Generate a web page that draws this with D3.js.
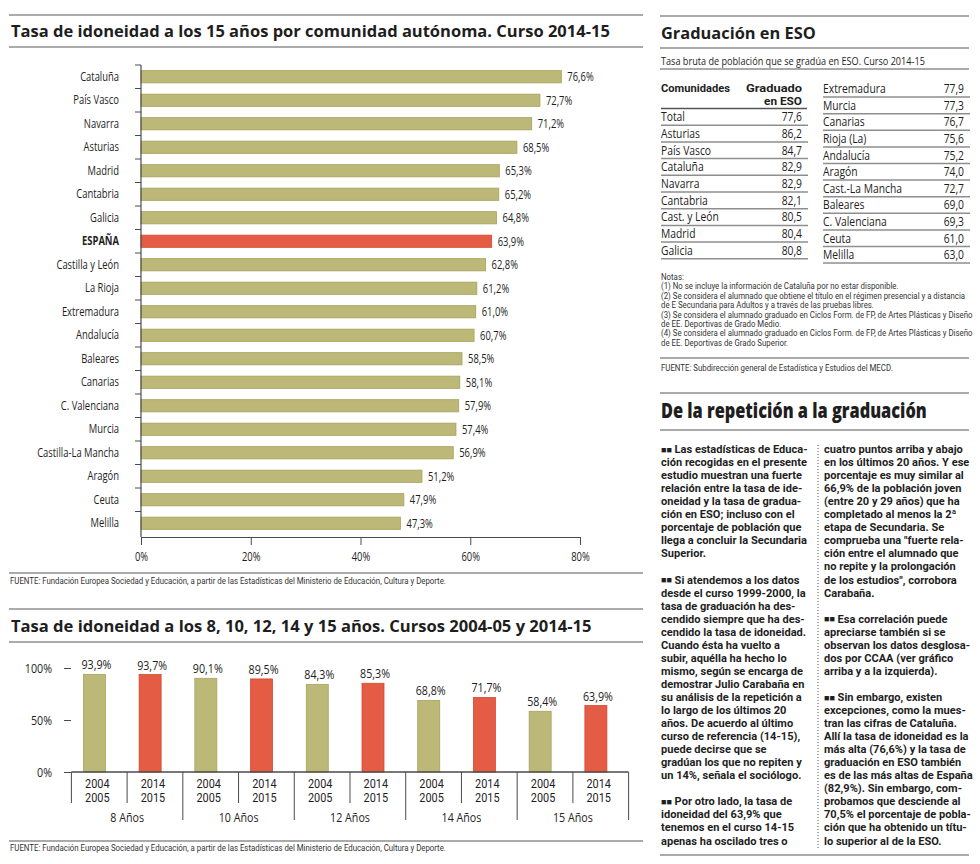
<!DOCTYPE html>
<html>
<head>
<meta charset="utf-8">
<script src="https://cdn.jsdelivr.net/npm/d3@7"></script>
<style>
body { margin: 0; background: #fff; }
svg { display: block; font-family: "Open Sans", sans-serif; }
</style>
</head>
<body>
<script>
// datos: tasa de idoneidad a los 15 años, curso 2014-15
var comunidades = ["Cataluña", "País Vasco", "Navarra", "Asturias", "Madrid", "Cantabria", "Galicia", "ESPAÑA",
    "Castilla y León", "La Rioja", "Extremadura", "Andalucía", "Baleares", "Canarias", "C. Valenciana", "Murcia",
    "Castilla-La Mancha", "Aragón", "Ceuta", "Melilla"];
var idoneidad15 = [76.6, 72.7, 71.2, 68.5, 65.3, 65.2, 64.8, 63.9, 62.8, 61.2, 61.0, 60.7, 58.5, 58.1, 57.9, 57.4, 56.9, 51.2, 47.9, 47.3];
var ticksX1 = [0, 20, 40, 60, 80];

// idoneidad por edad, cursos 2004-05 y 2014-15
var edades = ["8 Años", "10 Años", "12 Años", "14 Años", "15 Años"];
var cursos = ["2004-2005", "2014-2015"];
var curso0405 = [93.9, 90.1, 84.3, 68.8, 58.4];
var curso1415 = [93.7, 89.5, 85.3, 71.7, 63.9];
var ticksY2 = [0, 50, 100];

// tabla graduación en ESO
var tablaIzqNombres = ["Total", "Asturias", "País Vasco", "Cataluña", "Navarra", "Cantabria", "Cast. y León", "Madrid", "Galicia"];
var tablaIzqValores = [77.6, 86.2, 84.7, 82.9, 82.9, 82.1, 80.5, 80.4, 80.8];
var tablaDerNombres = ["Extremadura", "Murcia", "Canarias", "Rioja (La)", "Andalucía", "Aragón", "Cast.-La Mancha",
    "Baleares", "C. Valenciana", "Ceuta", "Melilla"];
var tablaDerValores = [77.9, 77.3, 76.7, 75.6, 75.2, 74.0, 72.7, 69.0, 69.3, 61.0, 63.0];

var notas = [
    "Notas:",
    "(1) No se incluye la información de Cataluña por no estar disponible.",
    "(2) Se considera el alumnado que obtiene el título en el régimen presencial y a distancia",
    "de E Secundaria para Adultos y a través de las pruebas libres.",
    "(3) Se considera el alumnado graduado en Ciclos Form. de FP, de Artes Plásticas y Diseño",
    "de EE. Deportivas de Grado Medio.",
    "(4) Se considera el alumnado graduado en Ciclos Form. de FP, de Artes Plásticas y Diseño",
    "de EE. Deportivas de Grado Superior."
];

var textoIzq = [
    "■■ Las estadísticas de Educa-", "ción recogidas en el presente", "estudio muestran una fuerte",
    "relación entre la tasa de ide-", "oneidad y la tasa de gradua-", "ción en ESO; incluso con el",
    "porcentaje de población que", "llega a concluir la Secundaria", "Superior.", "",
    "■■ Si atendemos a los datos", "desde el curso 1999-2000, la", "tasa de graduación ha des-",
    "cendido siempre que ha des-", "cendido la tasa de idoneidad.", "Cuando ésta ha vuelto a",
    "subir, aquélla ha hecho lo", "mismo, según se encarga de", "demostrar Julio Carabaña en",
    "su análisis de la repetición a", "lo largo de los últimos 20", "años. De acuerdo al último",
    "curso de referencia (14-15),", "puede decirse que se", "gradúan los que no repiten y",
    "un 14%, señala el sociólogo.", "",
    "■■ Por otro lado, la tasa de", "idoneidad del 63,9% que", "tenemos en el curso 14-15",
    "apenas ha oscilado tres o"
];
var textoDer = [
    "cuatro puntos arriba y abajo", "en los últimos 20 años. Y ese", "porcentaje es muy similar al",
    "66,9% de la población joven", "(entre 20 y 29 años) que ha", "completado al menos la 2ª",
    "etapa de Secundaria. Se", "comprueba una \"fuerte rela-", "ción entre el alumnado que",
    "no repite y la prolongación", "de los estudios\", corrobora", "Carabaña.", "",
    "■■ Esa correlación puede", "apreciarse también si se", "observan los datos desglosa-",
    "dos por CCAA (ver gráfico", "arriba y a la izquierda).", "",
    "■■ Sin embargo, existen", "excepciones, como la mues-", "tran las cifras de Cataluña.",
    "Allí la tasa de idoneidad es la", "más alta (76,6%) y la tasa de", "graduación en ESO también",
    "es de las más altas de España", "(82,9%). Sin embargo, com-", "probamos que desciende al",
    "70,5% el porcentaje de pobla-", "ción que ha obtenido un títu-", "lo superior al de la ESO."
];

var fuente1 = "FUENTE: Fundación Europea Sociedad y Educación, a partir de las Estadísticas del Ministerio de Educación, Cultura y Deporte.";

var w = 980;
var h = 864;
var svg = d3.select("body").append("svg").attr("width", w).attr("height", h);

var olive = "#bcb877", oliveBorde = "#a8a25c";
var rojo = "#e35c43", rojoBorde = "#d44a32";
var gris = "#8e8e8e", tinta = "#1e1e1e", ejeColor = "#4a4a4a";
var OPEN = "Open Sans, sans-serif", ROBOTO = "Roboto, sans-serif";

function coma(v) { return d3.format(".1f")(v).replace(".", ","); }

function medir(str, size, weight, family) {
    var t = svg.append("text").attr("font-size", size).attr("font-weight", weight || 400)
        .attr("font-family", family || OPEN).text(str);
    var l = t.node().getComputedTextLength();
    t.remove();
    return l;
}
// estrecha el texto en horizontal (las fuentes originales son condensadas)
function estrechar(sel, k) {
    sel.each(function() {
        var t = d3.select(this);
        var x = +t.attr("x") || 0, y = +t.attr("y") || 0;
        t.attr("x", 0).attr("y", 0).attr("transform", "translate(" + x + "," + y + ") scale(" + k + ",1)");
        t.selectAll("tspan").each(function() {
            var s = d3.select(this);
            if (s.attr("x") != null) s.attr("x", (+s.attr("x") - x) / k);
        });
    });
}
function ajustar(sel, ancho) {
    estrechar(sel, ancho / sel.node().getComputedTextLength());
}
function regla(x1, x2, y, sw, color) {
    svg.append("line").attr("x1", x1).attr("x2", x2).attr("y1", y).attr("y2", y)
        .attr("stroke", color || gris).attr("stroke-width", sw || 1.5);
}
function texto(x, y, str, size, weight, anchor, family) {
    return svg.append("text").attr("x", x).attr("y", y).attr("font-size", size)
        .attr("font-weight", weight || 400).attr("fill", tinta).attr("font-family", family || OPEN)
        .attr("text-anchor", anchor || "start").text(str);
}

// ---------- grafico 1: barras horizontales ----------
regla(9, 643, 15);
ajustar(texto(11, 37, "Tasa de idoneidad a los 15 años por comunidad autónoma. Curso 2014-15", 16.5, 700), 599);
regla(9, 643, 47);

var x1 = d3.scaleLinear().domain([0, 80]).range([141, 580]);
var y1 = d3.scaleBand().domain(comunidades).range([65, 535]).paddingInner(0.48).paddingOuter(0.24);
var k1 = 82 / medir("Castilla-La Mancha", 12);

svg.selectAll("rect.ccaa")
    .data(idoneidad15)
    .enter()
    .append("rect")
    .attr("class", "ccaa")
    .attr("x", x1(0))
    .attr("y", function(d, i) { return y1(comunidades[i]); })
    .attr("width", function(d) { return x1(d) - x1(0); })
    .attr("height", y1.bandwidth())
    .attr("fill", function(d, i) { return comunidades[i] == "ESPAÑA" ? rojo : olive; })
    .attr("stroke", function(d, i) { return comunidades[i] == "ESPAÑA" ? rojoBorde : oliveBorde; })
    .attr("stroke-width", 0.8);

var valores1 = svg.selectAll("text.val1")
    .data(idoneidad15)
    .enter()
    .append("text")
    .attr("class", "val1")
    .attr("x", function(d) { return x1(d) + 6; })
    .attr("y", function(d, i) { return y1(comunidades[i]) + y1.bandwidth() / 2 + 4.5; })
    .attr("font-size", 12)
    .attr("fill", tinta)
    .text(function(d) { return coma(d) + "%"; });
estrechar(valores1, k1);

var ejeY1 = svg.append("g").attr("transform", "translate(" + x1(0) + ",0)")
    .call(d3.axisLeft(y1).tickSize(0).tickPadding(22));
ejeY1.select(".domain").remove();
ejeY1.selectAll("text")
    .attr("font-size", 12)
    .attr("font-family", OPEN)
    .attr("fill", tinta)
    .attr("font-weight", function(d) { return d == "ESPAÑA" ? 700 : 400; });
estrechar(ejeY1.selectAll("text"), k1);

// marcas entre barras
var margenBanda = (y1.step() - y1.bandwidth()) / 2;
svg.selectAll("line.sep1")
    .data(comunidades)
    .enter()
    .append("line")
    .attr("class", "sep1")
    .attr("x1", x1(0) - 6).attr("x2", x1(0))
    .attr("y1", function(d) { return y1(d) - margenBanda; })
    .attr("y2", function(d) { return y1(d) - margenBanda; })
    .attr("stroke", ejeColor).attr("stroke-width", 1);
svg.append("line").attr("x1", x1(0)).attr("x2", x1(0)).attr("y1", 65).attr("y2", 537)
    .attr("stroke", ejeColor).attr("stroke-width", 1.2);

var ejeX1 = svg.append("g").attr("transform", "translate(0,537)")
    .call(d3.axisBottom(x1).tickValues(ticksX1).tickSize(8).tickSizeOuter(0).tickPadding(7)
        .tickFormat(function(d) { return d + "%"; }));
ejeX1.select(".domain").attr("stroke", ejeColor).attr("stroke-width", 1.2);
ejeX1.selectAll("line").attr("stroke", ejeColor);
ejeX1.selectAll("text").attr("font-size", 12).attr("font-family", OPEN).attr("fill", tinta);
estrechar(ejeX1.selectAll("text"), k1);

regla(9, 643, 573);
ajustar(texto(10, 583.5, fuente1, 8.5, 400, "start", ROBOTO).attr("fill", "#333"), 437);

// ---------- grafico 2: barras verticales ----------
regla(9, 643, 609);
ajustar(texto(11, 632, "Tasa de idoneidad a los 8, 10, 12, 14 y 15 años. Cursos 2004-05 y 2014-15", 16.5, 700), 581);
regla(9, 643, 642);

var xg = d3.scaleBand().domain(edades).range([71.4, 628.6]);
var xc = d3.scaleBand().domain(cursos).range([0, xg.bandwidth()]);
var y2 = d3.scaleLinear().domain([0, 100]).range([772, 668]);
var anchoBarra = 22;
var k2 = 24.5 / medir("2004", 12.5);

var series = [curso0405, curso1415];
var barras2 = [];
edades.forEach(function(e, i) {
    cursos.forEach(function(c, j) { barras2.push({ edad: e, curso: c, v: series[j][i], j: j }); });
});

svg.selectAll("rect.edad")
    .data(barras2)
    .enter()
    .append("rect")
    .attr("class", "edad")
    .attr("x", function(d) { return xg(d.edad) + xc(d.curso) + 12; })
    .attr("y", function(d) { return y2(d.v); })
    .attr("width", anchoBarra)
    .attr("height", function(d) { return y2(0) - y2(d.v); })
    .attr("fill", function(d) { return d.j ? rojo : olive; })
    .attr("stroke", function(d) { return d.j ? rojoBorde : oliveBorde; })
    .attr("stroke-width", 0.8);

var valores2 = svg.selectAll("text.val2")
    .data(barras2)
    .enter()
    .append("text")
    .attr("class", "val2")
    .attr("x", function(d) { return xg(d.edad) + xc(d.curso) + 12 + anchoBarra / 2 + 2; })
    .attr("y", function(d) { return y2(d.v) - 5; })
    .attr("text-anchor", "middle")
    .attr("font-size", 12.5)
    .attr("fill", tinta)
    .text(function(d) { return coma(d.v) + "%"; });
estrechar(valores2, k2);

var ejeY2 = svg.append("g").attr("transform", "translate(71,0)")
    .call(d3.axisLeft(y2).tickValues(ticksY2).tickSize(7).tickPadding(12)
        .tickFormat(function(d) { return d + "%"; }));
ejeY2.select(".domain").remove();
ejeY2.selectAll("line").attr("stroke", ejeColor);
ejeY2.selectAll("text").attr("font-size", 12.5).attr("font-family", OPEN).attr("fill", tinta);
estrechar(ejeY2.selectAll("text"), k2);

// caja de etiquetas bajo el eje
svg.append("line").attr("x1", xg.range()[0]).attr("x2", xg.range()[1]).attr("y1", y2(0)).attr("y2", y2(0))
    .attr("stroke", ejeColor).attr("stroke-width", 1.4);
var celdas = [];
edades.forEach(function(e, i) {
    cursos.forEach(function(c, j) { celdas.push({ x: xg(e) + xc(c), grupo: j == 0 }); });
});
celdas.push({ x: xg.range()[1], grupo: true });
svg.selectAll("line.celda")
    .data(celdas)
    .enter()
    .append("line")
    .attr("class", "celda")
    .attr("x1", function(d) { return d.x; })
    .attr("x2", function(d) { return d.x; })
    .attr("y1", y2(0))
    .attr("y2", function(d, i) { return (d.grupo && i > 0) ? 820 : 803; })
    .attr("stroke", ejeColor).attr("stroke-width", 1);

var k2r = 24.5 / medir("2004", 12.5, 400, ROBOTO);
var anios = svg.selectAll("text.anio")
    .data(barras2)
    .enter()
    .append("text")
    .attr("class", "anio")
    .attr("x", function(d) { return xg(d.edad) + xc(d.curso) + xc.bandwidth() / 2 - 2; })
    .attr("y", 787.5)
    .attr("text-anchor", "middle")
    .attr("font-size", 12.5)
    .attr("font-family", ROBOTO)
    .attr("fill", tinta);
anios.append("tspan").text(function(d) { return d.curso.split("-")[0]; });
anios.append("tspan").attr("x", function(d) { return xg(d.edad) + xc(d.curso) + xc.bandwidth() / 2 - 2; })
    .attr("dy", 15).text(function(d) { return d.curso.split("-")[1]; });
estrechar(anios, k2r);

var grupos = svg.selectAll("text.grupo")
    .data(edades)
    .enter()
    .append("text")
    .attr("class", "grupo")
    .attr("x", function(d) { return xg(d) + xg.bandwidth() / 2; })
    .attr("y", 821.5)
    .attr("text-anchor", "middle")
    .attr("font-size", 12.5)
    .attr("fill", tinta)
    .text(function(d) { return d; });
estrechar(grupos, k2);

regla(9, 643, 841);
ajustar(texto(10, 851, fuente1, 8.5, 400, "start", ROBOTO).attr("fill", "#333"), 437);

// ---------- tabla graduación en ESO ----------
regla(660, 969, 16);
ajustar(texto(661, 38.5, "Graduación en ESO", 16.5, 700), 155);
regla(660, 969, 48);
ajustar(texto(661, 64.5, "Tasa bruta de población que se gradúa en ESO. Curso 2014-15", 10.5), 264);
regla(660, 969, 69);

var kt = 79 / medir("Cast.-La Mancha", 12);
ajustar(texto(661, 92, "Comunidades", 11.5, 700, "start", ROBOTO), 69);
ajustar(texto(802, 92, "Graduado", 11.5, 700, "end", ROBOTO), 56);
ajustar(texto(802, 104.5, "en ESO", 11.5, 700, "end", ROBOTO), 38);
regla(661, 807, 108.5, 1.4, "#555");

function tabla(nombres, valores, filas, xIzq, xDer) {
    var g = svg.append("g");
    var fila = g.selectAll("g").data(valores).enter().append("g")
        .attr("transform", function(d, i) { return "translate(0," + filas(nombres[i]) + ")"; });
    var nom = fila.append("text").attr("x", xIzq).attr("y", filas.bandwidth() / 2 + 4.3)
        .attr("font-size", 12).attr("fill", tinta).text(function(d, i) { return nombres[i]; });
    estrechar(nom, kt);
    var val = fila.append("text").attr("x", xDer - 2).attr("y", filas.bandwidth() / 2 + 4.3)
        .attr("text-anchor", "end").attr("font-size", 12).attr("fill", tinta).text(function(d) { return coma(d); });
    estrechar(val, kt);
    fila.append("line").attr("x1", xIzq).attr("x2", xDer + 4)
        .attr("y1", filas.bandwidth()).attr("y2", filas.bandwidth())
        .attr("stroke", gris).attr("stroke-width", 1.5);
}
var filasIzq = d3.scaleBand().domain(tablaIzqNombres).range([108.5, 108.5 + 9 * 16.7]);
var filasDer = d3.scaleBand().domain(tablaDerNombres).range([80.5, 80.5 + 11 * 16.6]);
tabla(tablaIzqNombres, tablaIzqValores, filasIzq, 661, 804);
tabla(tablaDerNombres, tablaDerValores, filasDer, 823, 966);

var kn = 304 / medir(notas[2], 8.2, 400, ROBOTO);
notas.forEach(function(n, i) {
    var t = texto(661, 280 + i * 9.4, n, 8.2, 400, "start", ROBOTO).attr("fill", "#333");
    estrechar(t, kn);
});
regla(660, 969, 358);
estrechar(texto(661, 370.5, "FUENTE: Subdirección general de Estadística y Estudios del MECD.", 8.2, 400, "start", ROBOTO)
    .attr("fill", "#333"), kn);

// ---------- texto: De la repetición a la graduación ----------
regla(660, 969, 393);
ajustar(texto(661, 418, "De la repetición a la graduación", 21, 800), 266);
regla(660, 969, 430);

var kb = 146 / medir("llega a concluir la Secundaria", 11.1, 700, ROBOTO);
function columna(lineas, x0) {
    lineas.forEach(function(l, i) {
        if (!l) return;
        var t = svg.append("text").attr("x", x0).attr("y", 453 + i * 13.05)
            .attr("font-size", 11.1).attr("font-weight", 700).attr("font-family", ROBOTO).attr("fill", tinta);
        if (l.indexOf("■■ ") == 0) {
            t.append("tspan").attr("font-size", 9).attr("dy", -0.3).text("■■");
            t.append("tspan").attr("dy", 0.3).text(" " + l.slice(3));
        } else {
            t.text(l);
        }
        estrechar(t, kb);
    });
}
columna(textoIzq, 661);
columna(textoDer, 824);
svg.append("line").attr("x1", 818).attr("x2", 818).attr("y1", 445).attr("y2", 848)
    .attr("stroke", "#555").attr("stroke-width", 1).attr("stroke-dasharray", "1,2");
regla(660, 969, 855);
</script>
</body>
</html>
